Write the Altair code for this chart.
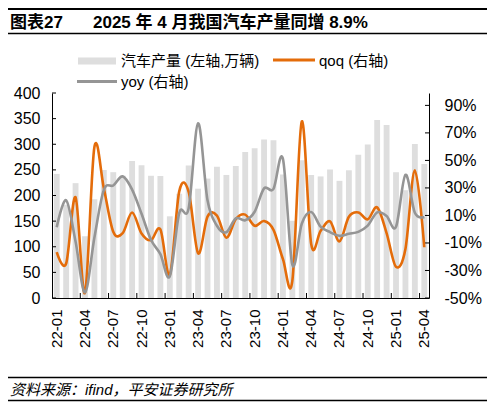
import altair as alt
import pandas as pd

months = ["22-01", "22-02", "22-03", "22-04", "22-05", "22-06", "22-07", "22-08", "22-09", "22-10", "22-11", "22-12",
          "23-01", "23-02", "23-03", "23-04", "23-05", "23-06", "23-07", "23-08", "23-09", "23-10", "23-11", "23-12",
          "24-01", "24-02", "24-03", "24-04", "24-05", "24-06", "24-07", "24-08", "24-09", "24-10", "24-11", "24-12",
          "25-01", "25-02", "25-03", "25-04"]

# 汽车产量 (万辆)
prod = [242.1, 181.9, 224.1, 120.5, 192.6, 249.9, 245.5, 238.7, 267.5, 259.1, 238.5, 238.1,
        159.4, 203.2, 258.4, 213.3, 233.0, 256.1, 240.1, 257.6, 285.0, 292.1, 309.3, 307.9,
        241.0, 150.7, 268.7, 240.0, 237.2, 250.7, 228.6, 249.2, 279.6, 299.6, 347.2, 337.5,
        245.4, 210.3, 300.6, 261.3]

# qoq (%)
qoq = [-16.7, -24.9, 23.2, -46.2, 59.8, 29.8, -1.8, -2.8, 12.1, -3.1, -8.0, -0.2,
       -33.1, 27.5, 27.2, -17.5, 9.2, 9.9, -6.2, 7.3, 10.6, 2.5, 5.9, -0.5,
       -21.7, -37.5, 78.3, -10.7, -1.2, 5.7, -8.8, 9.0, 12.2, 7.2, 15.9, -2.8,
       -27.3, -14.3, 42.9, -13.1]

# yoy (%)
yoy = [1.4, 21.0, -8.9, -45.9, -6.0, 28.6, 31.8, 38.4, 28.8, 11.2, -7.7, -18.1,
       -34.2, 11.7, 15.3, 77.0, 21.0, 2.5, -2.2, 7.9, 6.5, 12.7, 29.7, 29.3,
       51.2, -25.8, 4.0, 12.5, 1.8, -2.1, -4.8, -3.3, -1.9, 2.6, 12.3, 9.6,
       1.8, 39.5, 11.9, 8.9]

label_months = ["22-01", "22-04", "22-07", "22-10", "23-01", "23-04", "23-07", "23-10",
                "24-01", "24-04", "24-07", "24-10", "25-01", "25-04"]
tick_months = label_months[1:]
left_ticks = [0, 50, 100, 150, 200, 250, 300, 350, 400]
right_ticks = [-50, -30, -10, 10, 30, 50, 70, 90]

title_tag = "图表27"
title_text = "2025 年 4 月我国汽车产量同增 8.9%"
legend_bar = "汽车产量 (左轴,万辆)"
legend_qoq = "qoq (右轴)"
legend_yoy = "yoy (右轴)"
source_text = "资料来源：ifind，平安证券研究所"

df = pd.DataFrame({"month": months, "prod": prod, "qoq": qoq, "yoy": yoy})
df_lt = pd.DataFrame({"v": left_ticks})
df_rt = pd.DataFrame({"v": right_ticks})
df_xt = pd.DataFrame({"month": tick_months})
one = pd.DataFrame({"k": [0]})

W, H = 377, 205
FONT = "Liberation Sans, Noto Sans CJK SC"
BAR = "#dedede"
ORANGE = "#e46c0a"
GRAY = "#959595"

x_scale = alt.Scale(domain=months, paddingInner=0, paddingOuter=0)
x_axis = alt.Axis(values=label_months, labelAngle=270, tickSize=0, labelPadding=11,
                  domainColor="black", domainWidth=1, labelFont=FONT, labelFontSize=15,
                  labelColor="black", title=None, grid=False, zindex=1)
yl_scale = alt.Scale(domain=[0, 400], nice=False, zero=False)
yr_scale = alt.Scale(domain=[-50, 99], nice=False, zero=False)
left_axis = alt.Axis(orient="left", values=left_ticks, tickSize=0, labelPadding=12,
                     labelFont=FONT, labelFontSize=16, labelColor="black",
                     domainColor="black", domainWidth=1, title=None, grid=False, zindex=1)
right_axis = alt.Axis(orient="right", values=right_ticks, tickSize=0, labelPadding=15,
                      labelExpr="datum.value + '%'", labelFont=FONT, labelFontSize=16,
                      labelColor="black", domainColor="black", domainWidth=1,
                      title=None, grid=False, zindex=1)


def X(**kw):
    return alt.X("month:N", sort=months, scale=x_scale, axis=x_axis, **kw)


bars = alt.Chart(df).mark_bar(color=BAR, width=alt.RelativeBandSize(0.62)).encode(
    x=X(), y=alt.Y("prod:Q", scale=yl_scale, axis=left_axis))

lticks = alt.Chart(df_lt).mark_rule(color="black", strokeWidth=1).encode(
    y=alt.Y("v:Q", scale=yl_scale, axis=None), x=alt.value(0), x2=alt.value(4))

rticks = alt.Chart(df_rt).mark_rule(color="black", strokeWidth=1).encode(
    y=alt.Y("v:Q", scale=yr_scale, axis=None), x=alt.value(W - 4), x2=alt.value(W))

xticks = alt.Chart(df_xt).mark_rule(color="black", strokeWidth=1).encode(
    x=X(bandPosition=0), y=alt.value(H - 5), y2=alt.value(H))

qoq_line = alt.Chart(df).mark_line(color=ORANGE, strokeWidth=2.6, interpolate="cardinal").encode(
    x=X(), y=alt.Y("qoq:Q", scale=yr_scale, axis=right_axis))

yoy_line = alt.Chart(df).mark_line(color=GRAY, strokeWidth=2.6, interpolate="cardinal").encode(
    x=X(), y=alt.Y("yoy:Q", scale=yr_scale, axis=None))


def txt(s, x, y, size, weight="normal", style="normal", baseline="middle"):
    return alt.Chart(one).mark_text(text=s, font=FONT, fontSize=size, fontWeight=weight,
                                    fontStyle=style, align="left", baseline=baseline,
                                    color="black").encode(x=alt.value(x), y=alt.value(y))


def hline(x1, x2, y, color, w):
    return alt.Chart(one).mark_rule(color=color, strokeWidth=w).encode(
        x=alt.value(x1), x2=alt.value(x2), y=alt.value(y))


decor = [
    hline(-44, 435, -84, "black", 2),
    txt(title_tag, -42, -65, 17, weight="bold", baseline="alphabetic"),
    txt(title_text, 41, -65, 17, weight="bold", baseline="alphabetic"),
    hline(-44, 435, -59.5, "black", 1.5),
    hline(26, 64, -32, BAR, 7),
    txt(legend_bar, 69, -32, 15),
    hline(221, 263, -33, ORANGE, 3),
    txt(legend_qoq, 267, -32, 15),
    hline(25, 65, -11.5, GRAY, 3),
    txt(legend_yoy, 69, -11, 15),
    hline(-44, 435, 284.5, "black", 1.5),
    txt(source_text, -42, 297, 15, style="italic"),
    hline(-44, 435, 307.5, "black", 1.5),
]

chart = alt.layer(bars, lticks, rticks, xticks, qoq_line, yoy_line, *decor).resolve_scale(
    y="independent"
).properties(
    width=W, height=H,
    padding={"left": 44, "top": 85, "right": 58, "bottom": 104},
    autosize=alt.AutoSizeParams(type="none"),
).configure_view(strokeWidth=0)

chart.save("out.html", embed_options={"renderer": "svg", "actions": False})
